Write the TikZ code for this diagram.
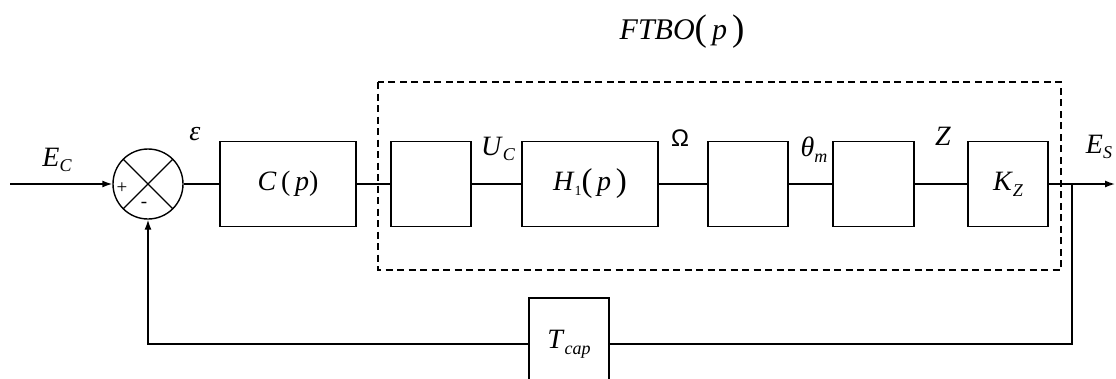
\documentclass[tikz,border=0pt]{standalone}
\usepackage{fontspec}
\setmainfont{Liberation Serif}
\newfontfamily\sansf{Liberation Sans}
\usetikzlibrary{arrows.meta}
\newcommand{\mysub}[1]{\raisebox{-0.45ex}{\fontsize{18}{20}\selectfont\itshape #1}}
\newcommand{\bigpar}[1]{\raisebox{-0.1ex}{\fontsize{33}{36}\selectfont #1}}
\begin{document}
\begin{tikzpicture}[x=1pt,y=-1pt,
  line width=1.4pt,
  every node/.style={font=\fontsize{28}{32}\selectfont},
  blk/.style={draw, line width=1.4pt, minimum height=85pt, inner sep=0pt},
  lbl/.style={inner sep=0pt},
  arr/.style={-{Latex[length=10pt,width=7pt]}}]
\useasboundingbox (0,0) rectangle (1116,378);
% summing junction
\node[draw, circle, minimum size=70pt, inner sep=0pt, line width=1.4pt] (sum) at (148,184) {};
\draw (sum.45) -- (sum.225);
\draw (sum.135) -- (sum.315);
\node[lbl, font=\fontsize{19}{20}\selectfont] (plus) at (122,188) {+};
\node[lbl, font=\fontsize{19}{20}\selectfont] (minus) at (144,205) {-};
% blocks
\node[blk, minimum width=136pt] (C) at (288,184) {\textit{C}\,(\,\textit{p})};
\node[blk, minimum width=80pt] (B1) at (431,184) {};
\node[blk, minimum width=136pt] (H) at (590,184) {\textit{H}\raisebox{-0.4ex}{\fontsize{14}{16}\selectfont 1}\bigpar{(}\,\textit{p}\,\bigpar{)}};
\node[blk, minimum width=80pt] (B3) at (748,184) {};
\node[blk, minimum width=81pt] (B4) at (873.5,184) {};
\node[blk, minimum width=80pt] (K) at (1008,184) {\raisebox{-0.5ex}{\textit{K}\mysub{Z}}};
\node[blk, minimum width=80pt, minimum height=92pt] (T) at (569,344) {\textit{T}\mysub{cap}};
% dashed frame
\draw[dash pattern=on 7pt off 4.5pt, line width=1.4pt] (378,82) rectangle (1061,270);
% coordinates
\coordinate (in) at (10,184);
\coordinate (out) at (1115,184);
\coordinate (br) at (1072,184);
\coordinate (brd) at (1072,344);
\coordinate (fbl) at (148,344);
% connectors
\draw[arr] (in) -- (sum.west);
\draw (sum.east) -- (C.west);
\draw (C.east) -- (B1.west);
\draw (B1.east) -- (H.west);
\draw (H.east) -- (B3.west);
\draw (B3.east) -- (B4.west);
\draw (B4.east) -- (K.west);
\draw[arr] (K.east) -- (out);
\draw (br) -- (brd) -- (T.east);
\draw[arr] (T.west) -- (fbl) -- (sum.south);
% labels
\node[lbl] (ec) at (57,160) {\textit{E}\mysub{C}};
\node[lbl] (eps) at (195,134) {\textit{ε}};
\node[lbl] (uc) at (498,149) {\textit{U}\mysub{C}};
\node[lbl, font=\fontsize{24}{28}\selectfont] (om) at (680,138) {\sansf Ω};
\node[lbl] (th) at (814,150) {\textit{θ}\mysub{m}};
\node[lbl] (z) at (943,136) {\textit{Z}};
\node[lbl] (es) at (1099,147) {\textit{E}\mysub{S}};
\node[lbl, font=\fontsize{30}{32}\selectfont] (ftbo) at (682,32) {\textit{FTBO}\raisebox{-0.12ex}{\fontsize{37}{40}\selectfont (}\,\textit{p}\,\raisebox{-0.12ex}{\fontsize{37}{40}\selectfont )}};
\end{tikzpicture}
\end{document}
